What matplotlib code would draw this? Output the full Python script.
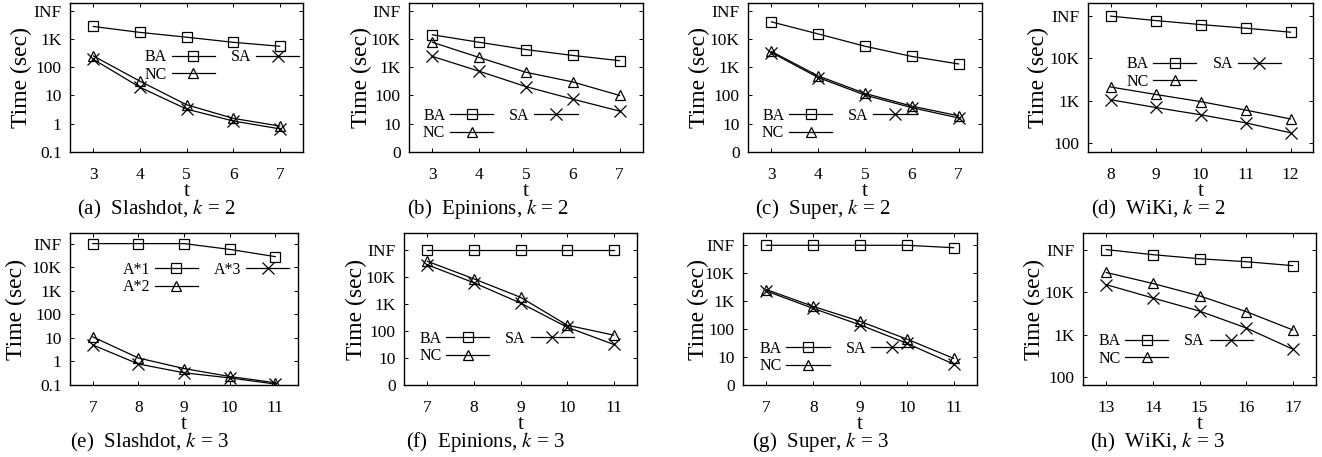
import numpy as np
import matplotlib.pyplot as plt

plt.rcParams['font.family'] = ['Liberation Serif', 'DejaVu Serif']
plt.rcParams['mathtext.fontset'] = 'stix'

W, H = 1322, 457

# x values (t)
t_a = [3, 4, 5, 6, 7]
t_d = [8, 9, 10, 11, 12]
t_e = [7, 8, 9, 10, 11]
t_h = [13, 14, 15, 16, 17]

# (a) Slashdot, k=2
a_ba = [2750, 1700, 1150, 760, 550]
a_nc = [250, 32, 4.7, 1.55, 0.83]
a_sa = [190, 19.5, 3.3, 1.25, 0.66]
# (b) Epinions, k=2
b_ba = [14000, 7600, 4200, 2600, 1700]
b_nc = [7600, 2200, 660, 300, 100]
b_sa = [2400, 720, 205, 74, 28]
# (c) Super, k=2
c_ba = [40000, 15000, 5500, 2400, 1300]
c_nc = [3600, 490, 118, 42, 19]
c_sa = [3300, 430, 103, 37, 16]
# (d) WiKi, k=2
d_ba = [98000, 77000, 62000, 51000, 41000]
d_nc = [2100, 1400, 950, 600, 370]
d_sa = [1050, 690, 465, 300, 175]
# (e) Slashdot, k=3
e_a1 = [100000, 100000, 100000, 57000, 28000]
e_a2 = [11, 1.4, 0.5, 0.23, 0.125]
e_a3 = [5, 0.78, 0.33, 0.2, 0.11]
# (f) Epinions, k=3
f_ba = [100000, 100000, 100000, 100000, 100000]
f_nc = [39000, 8700, 1800, 166, 71]
f_sa = [29000, 6200, 1100, 140, 32]
# (g) Super, k=3
g_ba = [100000, 100000, 100000, 100000, 82000]
g_nc = [2600, 650, 190, 44, 9]
g_sa = [2300, 550, 142, 31, 5.6]
# (h) WiKi, k=3
h_ba = [100000, 76000, 61000, 52000, 42000]
h_nc = [29000, 16000, 8200, 3500, 1300]
h_sa = [15000, 7300, 3600, 1450, 460]

labels_std = ['BA', 'NC', 'SA']
labels_e = ['A*1', 'A*2', 'A*3']

ticks_a = ['0.1', '1', '10', '100', '1K', 'INF']
ticks_b = ['0', '10', '100', '1K', '10K', 'INF']
ticks_d = ['100', '1K', '10K', 'INF']
ticks_e = ['0.1', '1', '10', '100', '1K', '10K', 'INF']

captions = ['(a)  Slashdot, $k$ = 2', '(b)  Epinions, $k$ = 2', '(c)  Super, $k$ = 2',
            '(d)  WiKi, $k$ = 2', '(e)  Slashdot, $k$ = 3', '(f)  Epinions, $k$ = 3',
            '(g)  Super, $k$ = 3', '(h)  WiKi, $k$ = 3']

# panel: (x, series, legend labels, tick labels, lowest exponent, top pad (decades), bottom pad)
panels = [
    (t_a, [a_ba, a_nc, a_sa], labels_std, ticks_a, -1, 0.27, 0.0),
    (t_a, [b_ba, b_nc, b_sa], labels_std, ticks_b, 0, 0.27, 0.0),
    (t_a, [c_ba, c_nc, c_sa], labels_std, ticks_b, 0, 0.27, 0.0),
    (t_d, [d_ba, d_nc, d_sa], labels_std, ticks_d, 2, 0.30, 0.21),
    (t_e, [e_a1, e_a2, e_a3], labels_e, ticks_e, -1, 0.45, 0.0),
    (t_e, [f_ba, f_nc, f_sa], labels_std, ticks_b, 0, 0.64, 0.0),
    (t_e, [g_ba, g_nc, g_sa], labels_std, ticks_b, 0, 0.44, 0.0),
    (t_h, [h_ba, h_nc, h_sa], labels_std, ticks_d, 2, 0.39, 0.18),
]

# layout in pixels: left, top, width, height
rects = [(70, 3, 233, 149), (409, 3, 234, 149), (748, 3, 234, 149), (1088, 3, 225, 149),
         (70, 233, 228, 152), (404, 233, 233, 152), (743, 233, 234, 152), (1083, 233, 233, 152)]
legend_pos = [(0.32, 0.577), (0.06, 0.185), (0.06, 0.185), (0.17, 0.53),
              (0.23, 0.70), (0.065, 0.247), (0.07, 0.18), (0.065, 0.23)]
caption_x = [0.37, 0.34, 0.32, 0.31, 0.35, 0.35, 0.33, 0.32]
caption_y = [-0.385] * 4 + [-0.375] * 4
ylabel_px = [-38, -37, -38, -39, -43, -37, -34, -38]

markers = ['s', '^', 'x']
msizes = [7.5, 7.5, 8.5]

fig = plt.figure(figsize=(W / 100, H / 100), dpi=100)

for i, (x, series, labs, tl, lo, tpad, bpad) in enumerate(panels):
    l, t, w, h = rects[i]
    ax = fig.add_axes([l / W, (H - t - h) / H, w / W, h / H])
    ax.set_yscale('log')
    hi = lo + len(tl) - 1
    for ys, m, ms, lb in zip(series, markers, msizes, labs):
        ax.plot(x, ys, color='black', lw=0.9, marker=m, ms=ms, mfc='none',
                mec='black', mew=0.9, label=lb)
    ax.set_yticks([10.0 ** k for k in range(lo, hi + 1)])
    ax.set_yticklabels(tl)
    ax.yaxis.set_minor_locator(plt.NullLocator())
    ax.set_ylim(10.0 ** (lo - bpad), 10.0 ** (hi + tpad))
    ax.set_xticks(x)
    ax.set_xlim(x[0] - 0.5, x[-1] + 0.5)
    ax.tick_params(direction='in', top=True, right=True, labelsize=12.5, length=3, width=0.7)
    ax.tick_params(axis='x', pad=11)
    ax.tick_params(axis='y', pad=6)
    for s in ax.spines.values():
        s.set_linewidth(1.0)
    ax.set_xlabel('t', fontsize=16, labelpad=-1)
    ax.set_ylabel('Time (sec)', fontsize=17)
    ax.yaxis.set_label_coords(ylabel_px[i] / w, 0.5)
    ax.legend(loc='center left', bbox_to_anchor=legend_pos[i], ncol=2, frameon=False,
              markerfirst=False, numpoints=1, fontsize=11.5, handlelength=2.7,
              handletextpad=0.3, columnspacing=1.0, borderpad=0, borderaxespad=0,
              labelspacing=0.1)
    ax.text(caption_x[i], caption_y[i], captions[i], transform=ax.transAxes, ha='center',
            va='center', fontsize=15)

fig.savefig('out.png', dpi=100)
